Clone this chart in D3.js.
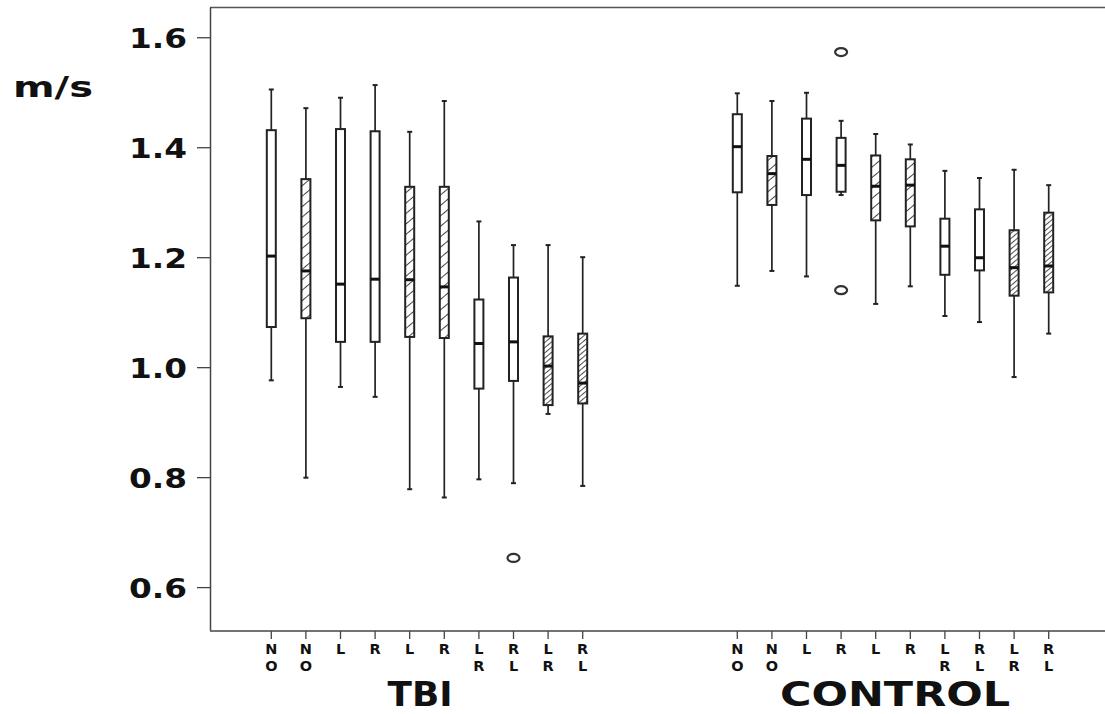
<!DOCTYPE html>
<html lang="en">
<head>
    <meta charset="UTF-8">
    <title>Box plot TBI vs CONTROL</title>
    <script src="https://cdnjs.cloudflare.com/ajax/libs/d3/7.8.5/d3.min.js"></script>
    <style>
        body { margin: 0; background: #fff; }
        svg text { font-family: "DejaVu Sans", Verdana, sans-serif; font-weight: bold; fill: #111; }
    </style>
</head>
<body>
    <div id="chart"></div>
    <script>
        // groups and categories
        const groups = ["TBI", "CONTROL"];
        const catTop = ["N", "N", "L", "R", "L", "R", "L", "R", "L", "R"];
        const catBottom = ["O", "O", "", "", "", "", "R", "L", "R", "L"];
        const fills = ["plain", "hatch", "plain", "plain", "hatch", "hatch", "plain", "plain", "dense", "dense"];
        const yTicks = [0.6, 0.8, 1.0, 1.2, 1.4, 1.6];

        // TBI values
        const tbiHigh   = [1.505, 1.471, 1.490, 1.513, 1.428, 1.484, 1.265, 1.222, 1.222, 1.200];
        const tbiQ3     = [1.431, 1.342, 1.433, 1.429, 1.328, 1.328, 1.123, 1.163, 1.056, 1.061];
        const tbiMedian = [1.202, 1.175, 1.151, 1.160, 1.159, 1.146, 1.043, 1.046, 1.002, 0.971];
        const tbiQ1     = [1.073, 1.089, 1.046, 1.046, 1.055, 1.053, 0.961, 0.975, 0.931, 0.934];
        const tbiLow    = [0.976, 0.799, 0.964, 0.946, 0.778, 0.763, 0.796, 0.789, 0.915, 0.784];
        const tbiOutliers = [[7, 0.653]];

        // CONTROL values
        const ctlHigh   = [1.498, 1.484, 1.499, 1.448, 1.424, 1.405, 1.357, 1.344, 1.359, 1.331];
        const ctlQ3     = [1.460, 1.384, 1.452, 1.417, 1.385, 1.378, 1.270, 1.287, 1.249, 1.281];
        const ctlMedian = [1.401, 1.352, 1.378, 1.367, 1.329, 1.331, 1.220, 1.199, 1.181, 1.184];
        const ctlQ1     = [1.318, 1.295, 1.313, 1.319, 1.267, 1.256, 1.168, 1.176, 1.130, 1.136];
        const ctlLow    = [1.148, 1.175, 1.165, 1.313, 1.115, 1.147, 1.093, 1.082, 0.982, 1.061];
        const ctlOutliers = [[3, 1.573], [3, 1.140]];

        const series = {
            TBI: { high: tbiHigh, q3: tbiQ3, median: tbiMedian, q1: tbiQ1, low: tbiLow, outliers: tbiOutliers },
            CONTROL: { high: ctlHigh, q3: ctlQ3, median: ctlMedian, q1: ctlQ1, low: ctlLow, outliers: ctlOutliers }
        };

        const width = 1105, height = 714;
        const plotLeft = 210, plotTop = 7, plotBottom = 630;

        const svg = d3.select("#chart").append("svg")
            .attr("width", width).attr("height", height);

        const defs = svg.append("defs");
        function hatch(id, gap, sw) {
            const p = defs.append("pattern")
                .attr("id", id)
                .attr("patternUnits", "userSpaceOnUse")
                .attr("width", gap).attr("height", gap)
                .attr("patternTransform", "rotate(50)");
            p.append("rect").attr("width", gap).attr("height", gap).attr("fill", "#fff");
            p.append("line")
                .attr("x1", 0).attr("y1", 0).attr("x2", 0).attr("y2", gap)
                .attr("stroke", "#222").attr("stroke-width", sw);
        }
        hatch("hatch", 8, 1.7);
        hatch("dense", 4, 1.6);

        const y = d3.scaleLinear().domain([0.522, 1.655]).range([plotBottom, plotTop]);
        const xGroup = d3.scaleBand().domain(groups).range([194, 1126]);
        const xInner = d3.scalePoint().domain(d3.range(10)).range([-155.7, 155.7]);
        const xPos = (g, i) => xGroup(g) + xGroup.bandwidth() / 2 + xInner(i);

        // frame: top line
        svg.append("line")
            .attr("x1", plotLeft).attr("x2", width).attr("y1", plotTop + 0.5).attr("y2", plotTop + 0.5)
            .attr("stroke", "#555").attr("stroke-width", 1.5);

        // y axis
        const yAxis = svg.append("g")
            .attr("transform", `translate(${plotLeft},0)`)
            .call(d3.axisLeft(y).tickValues(yTicks).tickFormat(d3.format(".1f"))
                .tickSize(13).tickSizeOuter(0).tickPadding(10));
        yAxis.select(".domain").attr("stroke", "#444").attr("stroke-width", 1.5);
        yAxis.selectAll(".tick line").attr("stroke", "#444").attr("stroke-width", 1.3);
        yAxis.selectAll(".tick text")
            .attr("fill", "#111")
            .attr("dy", "0.4em")
            .style("font-size", "26px")
            .attr("textLength", 58)
            .attr("lengthAdjust", "spacingAndGlyphs");

        svg.append("text")
            .attr("x", 13).attr("y", 97)
            .style("font-size", "28px")
            .attr("textLength", 80)
            .attr("lengthAdjust", "spacingAndGlyphs")
            .text("m/s");

        // x axis line
        svg.append("line")
            .attr("x1", plotLeft).attr("x2", width).attr("y1", plotBottom + 1).attr("y2", plotBottom + 1)
            .attr("stroke", "#444").attr("stroke-width", 1.5);

        const boxW = 9;
        groups.forEach(g => {
            const s = series[g];
            const gg = svg.append("g");

            // ticks and two-line category labels
            d3.range(10).forEach(i => {
                const cx = xPos(g, i);
                gg.append("line")
                    .attr("x1", cx).attr("x2", cx).attr("y1", plotBottom + 1).attr("y2", plotBottom + 9)
                    .attr("stroke", "#444").attr("stroke-width", 1.3);
                gg.append("text")
                    .attr("x", cx).attr("y", 654)
                    .attr("text-anchor", "middle")
                    .style("font-size", "14.5px")
                    .text(catTop[i]);
                if (catBottom[i]) {
                    gg.append("text")
                        .attr("x", cx).attr("y", 671)
                        .attr("text-anchor", "middle")
                        .style("font-size", "14.5px")
                        .text(catBottom[i]);
                }
            });

            // whiskers, boxes, medians
            d3.range(10).forEach(i => {
                const cx = xPos(g, i);
                gg.append("line")
                    .attr("x1", cx).attr("x2", cx)
                    .attr("y1", y(s.high[i])).attr("y2", y(s.low[i]))
                    .attr("stroke", "#222").attr("stroke-width", 1.7);
                [s.high[i], s.low[i]].forEach(v => {
                    gg.append("line")
                        .attr("x1", cx - 2.5).attr("x2", cx + 2.5)
                        .attr("y1", y(v)).attr("y2", y(v))
                        .attr("stroke", "#222").attr("stroke-width", 2);
                });
                gg.append("rect")
                    .attr("x", cx - boxW / 2).attr("width", boxW)
                    .attr("y", y(s.q3[i])).attr("height", y(s.q1[i]) - y(s.q3[i]))
                    .attr("fill", fills[i] === "plain" ? "#fff" : `url(#${fills[i]})`)
                    .attr("stroke", "#222").attr("stroke-width", 2);
                gg.append("line")
                    .attr("x1", cx - boxW / 2).attr("x2", cx + boxW / 2)
                    .attr("y1", y(s.median[i])).attr("y2", y(s.median[i]))
                    .attr("stroke", "#111").attr("stroke-width", 3);
            });

            // outliers
            gg.selectAll("ellipse.out")
                .data(s.outliers)
                .enter().append("ellipse")
                .attr("cx", d => xPos(g, d[0]))
                .attr("cy", d => y(d[1]))
                .attr("rx", 6).attr("ry", 4)
                .attr("fill", "none")
                .attr("stroke", "#333").attr("stroke-width", 2.2);

            // group label
            gg.append("text")
                .attr("x", xGroup(g) + xGroup.bandwidth() / 2 - (g === "TBI" ? 7 : -2))
                .attr("y", 706)
                .attr("text-anchor", "middle")
                .style("font-size", "34.5px")
                .attr("textLength", g === "TBI" ? 65 : 230)
                .attr("lengthAdjust", "spacingAndGlyphs")
                .text(g);
        });
    </script>
</body>
</html>
